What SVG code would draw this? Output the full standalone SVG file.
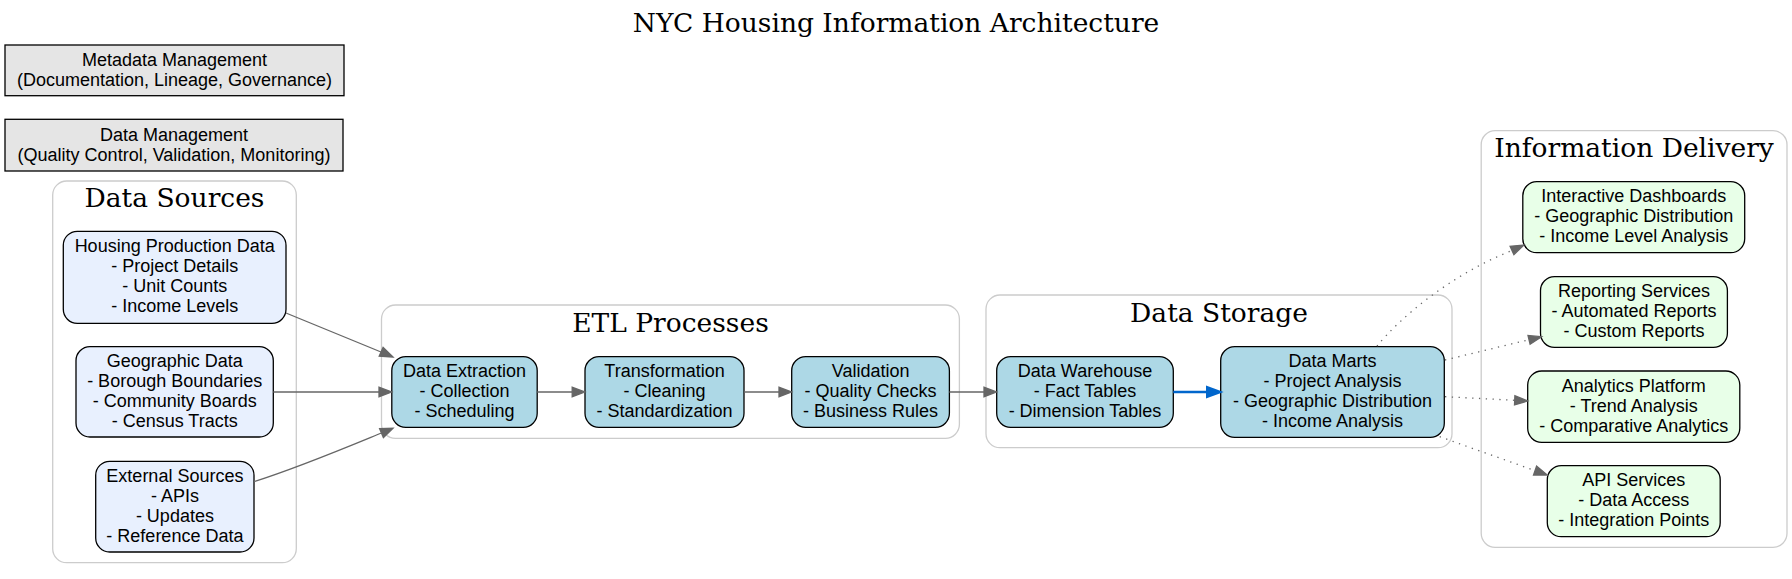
<svg xmlns="http://www.w3.org/2000/svg" width="1792" height="579" viewBox="0 0 1792 579">
<defs>
<style>
.bg{fill:#ffffff}
.title{font-family:"DejaVu Serif",serif;font-size:26.5px;fill:#000;text-anchor:middle}
.cluster{fill:none;stroke:#cccccc;stroke-width:1.3}
.ctitle{font-family:"DejaVu Serif",serif;font-size:26.5px;fill:#000;text-anchor:middle}
.src{fill:#e8f0fe;stroke:#000;stroke-width:1.3}
.proc{fill:#add8e6;stroke:#000;stroke-width:1.3}
.out{fill:#e8ffe8;stroke:#000;stroke-width:1.3}
.mgmt{fill:#e5e5e5;stroke:#000;stroke-width:1.3}
.lbl{font-family:"Liberation Sans",Arial,sans-serif;font-size:18px;fill:#000;text-anchor:middle}
.edge{fill:none;stroke:#666666;stroke-width:1.3}
.dot{fill:none;stroke:#666666;stroke-width:1.3;stroke-dasharray:1.3,5.5}
.blue{fill:none;stroke:#0066cc;stroke-width:2.6}
.ah{fill:#666666;stroke:#666666;stroke-width:1.3}
.ahb{fill:#0066cc;stroke:#0066cc;stroke-width:2}
</style>
</defs>
<rect class="bg" x="0" y="0" width="1792" height="579"/>
<text class="title" x="896" y="31.5">NYC Housing Information Architecture</text>

<g id="cluster-sources">
<rect class="cluster" x="52.7" y="181" width="243.6" height="381.7" rx="14"/>
<text class="ctitle" x="174.5" y="207">Data Sources</text>
</g>
<g id="cluster-etl">
<rect class="cluster" x="381.5" y="305" width="577.9" height="133.3" rx="14"/>
<text class="ctitle" x="670.5" y="331.5">ETL Processes</text>
</g>
<g id="cluster-storage">
<rect class="cluster" x="986" y="295" width="466" height="152.7" rx="14"/>
<text class="ctitle" x="1219" y="321.5">Data Storage</text>
</g>
<g id="cluster-delivery">
<rect class="cluster" x="1481.2" y="130.7" width="305.8" height="416.6" rx="14"/>
<text class="ctitle" x="1634" y="157">Information Delivery</text>
</g>

<g id="metadata">
<rect class="mgmt" x="5" y="45" width="339" height="50.7"/>
<text class="lbl" x="174.5"><tspan x="174.5" y="65.7">Metadata Management</tspan><tspan x="174.5" y="85.7">(Documentation, Lineage, Governance)</tspan></text>
</g>
<g id="datamgmt">
<rect class="mgmt" x="5" y="119.3" width="338" height="51.7"/>
<text class="lbl"><tspan x="174" y="140.7">Data Management</tspan><tspan x="174" y="160.7">(Quality Control, Validation, Monitoring)</tspan></text>
</g>

<g id="housing">
<rect class="src" x="63.3" y="231.3" width="222.7" height="92" rx="14"/>
<text class="lbl"><tspan x="174.7" y="252">Housing Production Data</tspan><tspan x="174.7" y="272">- Project Details</tspan><tspan x="174.7" y="292">- Unit Counts</tspan><tspan x="174.7" y="312">- Income Levels</tspan></text>
</g>
<g id="geographic">
<rect class="src" x="76" y="346.7" width="197.3" height="90.3" rx="14"/>
<text class="lbl"><tspan x="174.7" y="366.8">Geographic Data</tspan><tspan x="174.7" y="386.8">- Borough Boundaries</tspan><tspan x="174.7" y="406.8">- Community Boards</tspan><tspan x="174.7" y="426.8">- Census Tracts</tspan></text>
</g>
<g id="external">
<rect class="src" x="95.7" y="461.3" width="158.3" height="90.7" rx="14"/>
<text class="lbl"><tspan x="174.9" y="481.6">External Sources</tspan><tspan x="174.9" y="501.6">- APIs</tspan><tspan x="174.9" y="521.6">- Updates</tspan><tspan x="174.9" y="541.6">- Reference Data</tspan></text>
</g>

<g id="extraction">
<rect class="proc" x="391.8" y="356.7" width="145.4" height="70.6" rx="14"/>
<text class="lbl"><tspan x="464.5" y="377">Data Extraction</tspan><tspan x="464.5" y="397">- Collection</tspan><tspan x="464.5" y="417">- Scheduling</tspan></text>
</g>
<g id="transformation">
<rect class="proc" x="585" y="356.7" width="159" height="70.6" rx="14"/>
<text class="lbl"><tspan x="664.5" y="377">Transformation</tspan><tspan x="664.5" y="397">- Cleaning</tspan><tspan x="664.5" y="417">- Standardization</tspan></text>
</g>
<g id="validation">
<rect class="proc" x="791.7" y="356.7" width="157.7" height="70.6" rx="14"/>
<text class="lbl"><tspan x="870.6" y="377">Validation</tspan><tspan x="870.6" y="397">- Quality Checks</tspan><tspan x="870.6" y="417">- Business Rules</tspan></text>
</g>
<g id="warehouse">
<rect class="proc" x="996.7" y="356.7" width="176.6" height="70.6" rx="14"/>
<text class="lbl"><tspan x="1085" y="377">Data Warehouse</tspan><tspan x="1085" y="397">- Fact Tables</tspan><tspan x="1085" y="417">- Dimension Tables</tspan></text>
</g>
<g id="datamarts">
<rect class="proc" x="1220.7" y="346.7" width="223.6" height="90.6" rx="14"/>
<text class="lbl"><tspan x="1332.5" y="367">Data Marts</tspan><tspan x="1332.5" y="387">- Project Analysis</tspan><tspan x="1332.5" y="407">- Geographic Distribution</tspan><tspan x="1332.5" y="427">- Income Analysis</tspan></text>
</g>

<g id="dashboards">
<rect class="out" x="1522.8" y="181.7" width="221.9" height="71" rx="14"/>
<text class="lbl"><tspan x="1633.8" y="202.2">Interactive Dashboards</tspan><tspan x="1633.8" y="222.2">- Geographic Distribution</tspan><tspan x="1633.8" y="242.2">- Income Level Analysis</tspan></text>
</g>
<g id="reporting">
<rect class="out" x="1540.5" y="276.7" width="186.9" height="70.6" rx="14"/>
<text class="lbl"><tspan x="1634" y="297">Reporting Services</tspan><tspan x="1634" y="317">- Automated Reports</tspan><tspan x="1634" y="337">- Custom Reports</tspan></text>
</g>
<g id="analytics">
<rect class="out" x="1527.7" y="371" width="212.1" height="71.3" rx="14"/>
<text class="lbl"><tspan x="1633.8" y="391.7">Analytics Platform</tspan><tspan x="1633.8" y="411.7">- Trend Analysis</tspan><tspan x="1633.8" y="431.7">- Comparative Analytics</tspan></text>
</g>
<g id="api">
<rect class="out" x="1547.3" y="465.7" width="172.9" height="71" rx="14"/>
<text class="lbl"><tspan x="1633.8" y="486.2">API Services</tspan><tspan x="1633.8" y="506.2">- Data Access</tspan><tspan x="1633.8" y="526.2">- Integration Points</tspan></text>
</g>

<g id="connectors">
<path class="edge" d="M286,313 C320,327 352,340 381,352"/>
<polygon class="ah" points="393,357 379.2,356.2 383.1,347.3"/>
<path class="edge" d="M273.3,392 L379,392"/>
<polygon class="ah" points="391.8,392 379,396.7 379,387.3"/>
<path class="edge" d="M254,481.7 C300,467 345,448 381.5,433"/>
<polygon class="ah" points="393,428.3 383.4,437.6 379.6,428.7"/>
<path class="edge" d="M537.2,392 L572.2,392"/>
<polygon class="ah" points="585,392 572.2,396.7 572.2,387.3"/>
<path class="edge" d="M744,392 L779,392"/>
<polygon class="ah" points="791.7,392 779,396.7 779,387.3"/>
<path class="edge" d="M949.4,392 L984,392"/>
<polygon class="ah" points="996.7,392 984,396.7 984,387.3"/>
<path class="blue" d="M1173.3,392 L1207,392"/>
<polygon class="ahb" points="1220.7,392 1207,397 1207,387"/>
<path class="dot" d="M1377,346 C1400,318 1450,275 1512,250.5"/>
<polygon class="ah" points="1523.9,245 1513.9,254.6 1510.1,246.3"/>
<path class="dot" d="M1445,360 L1529,339.7"/>
<polygon class="ah" points="1541.6,336.7 1530.1,344.3 1528,335.4"/>
<path class="dot" d="M1445,396.7 L1514.7,400.3"/>
<polygon class="ah" points="1527.7,401 1514.5,404.9 1514.9,395.7"/>
<path class="dot" d="M1439.7,436.7 L1535,470.6"/>
<polygon class="ah" points="1547.3,475 1533.5,475 1536.6,466.2"/>
</g>
</svg>
